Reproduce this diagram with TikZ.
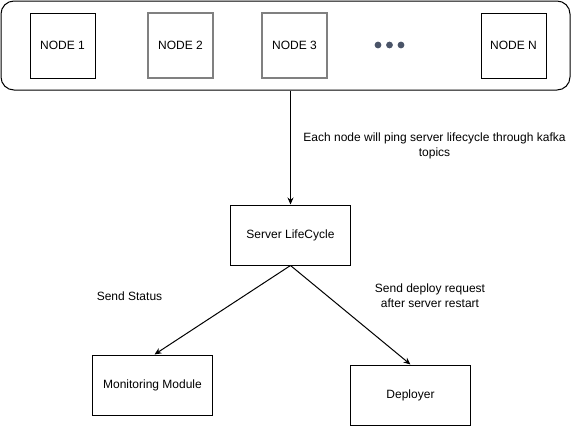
\documentclass[tikz,border=0pt]{standalone}
\usepackage{fontspec}
\setmainfont{Liberation Sans}
\usetikzlibrary{arrows.meta}

\definecolor{dotgray}{HTML}{4A5468}

\begin{document}
\begin{tikzpicture}[x=1pt, y=-1pt, font=\fontsize{12}{15}\selectfont,
    line width=1pt, >={Stealth[length=7pt,width=6pt]},
    box/.style={draw=black, minimum width=65pt, minimum height=65pt, inner sep=0pt},
    graybox/.style={box, draw=gray, line width=2pt},
    block/.style={draw=black, minimum width=120pt, minimum height=60pt, inner sep=0pt}]
    \useasboundingbox (0,0) rectangle (571,426);

    %cluster of nodes
    \node[draw=black, rounded corners=13pt, minimum width=569pt, minimum height=89pt] (cluster) at (285.5,45.5) {};
    \node[box] (node1) at (62.5,45.5) {NODE 1};
    \node[graybox] (node2) at (180.5,45.5) {NODE 2};
    \node[graybox] (node3) at (294.5,45.5) {NODE 3};
    \node[box] (nodeN) at (513.5,45.5) {NODE N};
    \foreach \x in {378,389.5,401}
        \fill[dotgray] (\x,45) circle (3.4pt);

    %server side
    \node[block] (lifecycle) at (290.5,235) {Server LifeCycle};
    \node[block] (monitor) at (152.5,385) {Monitoring Module};
    \node[block] (deployer) at (410.5,395) {Deployer};

    %labels
    \node[align=center] (pinglabel) at (434.5,145.5) {Each node will ping server lifecycle through kafka\\topics};
    \node (statuslabel) at (129.5,296) {Send Status};
    \node[align=center] (deploylabel) at (430,295.5) {Send deploy request\\after server restart};

    %connectors
    \draw[->] (cluster.south -| lifecycle.north) -- (lifecycle.north);
    \draw[->] (lifecycle.south) -- ([xshift=2pt]monitor.north);
    \draw[->] (lifecycle.south) -- (deployer.north);
\end{tikzpicture}
\end{document}
